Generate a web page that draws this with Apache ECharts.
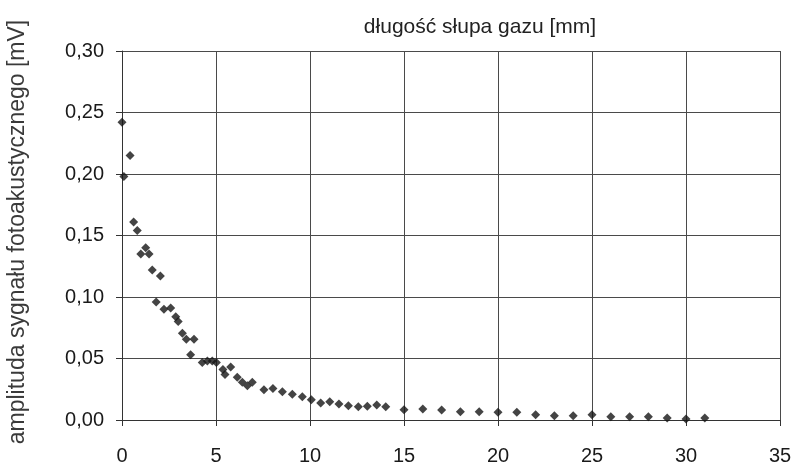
<!DOCTYPE html>
<html>
<head>
<meta charset="utf-8">
<script src="https://cdn.jsdelivr.net/npm/echarts@6/dist/echarts.min.js"></script>
<style>
html,body{margin:0;padding:0;background:#fff;}
#chart{width:795px;height:466px;}
</style>
</head>
<body>
<div id="chart"></div>
<script>
const xTitle = 'długość słupa gazu [mm]';
const yTitle = 'amplituda sygnału fotoakustycznego [mV]';
const xValues = [0.0, 0.1, 0.43, 0.62, 0.81, 1.0, 1.26, 1.44, 1.61, 2.04, 1.82, 2.23, 2.59, 2.86, 2.99, 3.21, 3.42, 3.83, 3.65, 4.27, 4.54, 4.80, 5.02, 5.37, 5.48, 5.78, 6.13, 6.40, 6.67, 6.93, 7.55, 8.03, 8.53, 9.06, 9.59, 10.07, 10.57, 11.05, 11.54, 12.04, 12.57, 13.05, 13.55, 14.03, 15, 16, 17, 18, 19, 20, 21, 22, 23, 24, 25, 26, 27, 28, 29, 30, 31];
const yValues = [0.242, 0.198, 0.215, 0.161, 0.154, 0.135, 0.140, 0.135, 0.122, 0.117, 0.096, 0.090, 0.091, 0.084, 0.080, 0.0706, 0.0657, 0.0657, 0.053, 0.0468, 0.048, 0.048, 0.0468, 0.041, 0.037, 0.043, 0.0347, 0.0306, 0.0278, 0.0306, 0.0246, 0.0257, 0.0230, 0.0209, 0.0189, 0.0165, 0.0138, 0.0149, 0.0130, 0.0116, 0.0108, 0.0111, 0.0122, 0.0108, 0.0084, 0.0089, 0.0081, 0.0067, 0.0067, 0.0063, 0.0063, 0.0043, 0.0035, 0.0035, 0.0043, 0.0027, 0.0027, 0.0027, 0.0016, 0.0008, 0.0016];
const xTicks = {min: 0, max: 35, interval: 5};
const yTicks = {min: 0, max: 0.30, interval: 0.05};

const points = xValues.map((x, i) => [x, yValues[i]]);
const FONT = '"Liberation Sans", Arial, sans-serif';
const chart = echarts.init(document.getElementById('chart'), null, {renderer: 'canvas'});
chart.setOption({
  animation: false,
  backgroundColor: '#ffffff',
  title: {
    text: xTitle,
    left: 475, top: 12, textAlign: 'center',
    textStyle: {fontFamily: FONT, fontSize: 21, fontWeight: 'normal', color: '#222'}
  },
  graphic: [{
    type: 'text',
    x: 18, y: 232,
    rotation: Math.PI / 2,
    style: {
      text: yTitle,
      font: '23px "Liberation Sans", Arial, sans-serif',
      fill: '#3a3a3a',
      textAlign: 'center',
      textVerticalAlign: 'middle'
    }
  }],
  grid: {left: 122, right: 15, top: 51, bottom: 45},
  xAxis: {
    type: 'value', min: xTicks.min, max: xTicks.max, interval: xTicks.interval,
    axisLine: {show: true, lineStyle: {color: '#333', width: 1}},
    axisTick: {show: true, inside: false, length: 6, lineStyle: {color: '#333'}},
    splitLine: {show: true, lineStyle: {color: '#4a4a4a', width: 1}},
    axisLabel: {fontFamily: FONT, fontSize: 20, color: '#1a1a1a', margin: 26}
  },
  yAxis: {
    type: 'value', min: yTicks.min, max: yTicks.max, interval: yTicks.interval,
    axisLine: {show: true, lineStyle: {color: '#333', width: 1}},
    axisTick: {show: true, inside: false, length: 6, lineStyle: {color: '#333'}},
    splitLine: {show: true, lineStyle: {color: '#4a4a4a', width: 1}},
    axisLabel: {fontFamily: FONT, fontSize: 20, color: '#1a1a1a', margin: 18,
      formatter: v => v.toFixed(2).replace('.', ',')}
  },
  series: [{
    type: 'scatter',
    data: points,
    symbol: 'diamond',
    symbolSize: 9,
    itemStyle: {color: '#151515'}
  }]
});
</script>
</body>
</html>
